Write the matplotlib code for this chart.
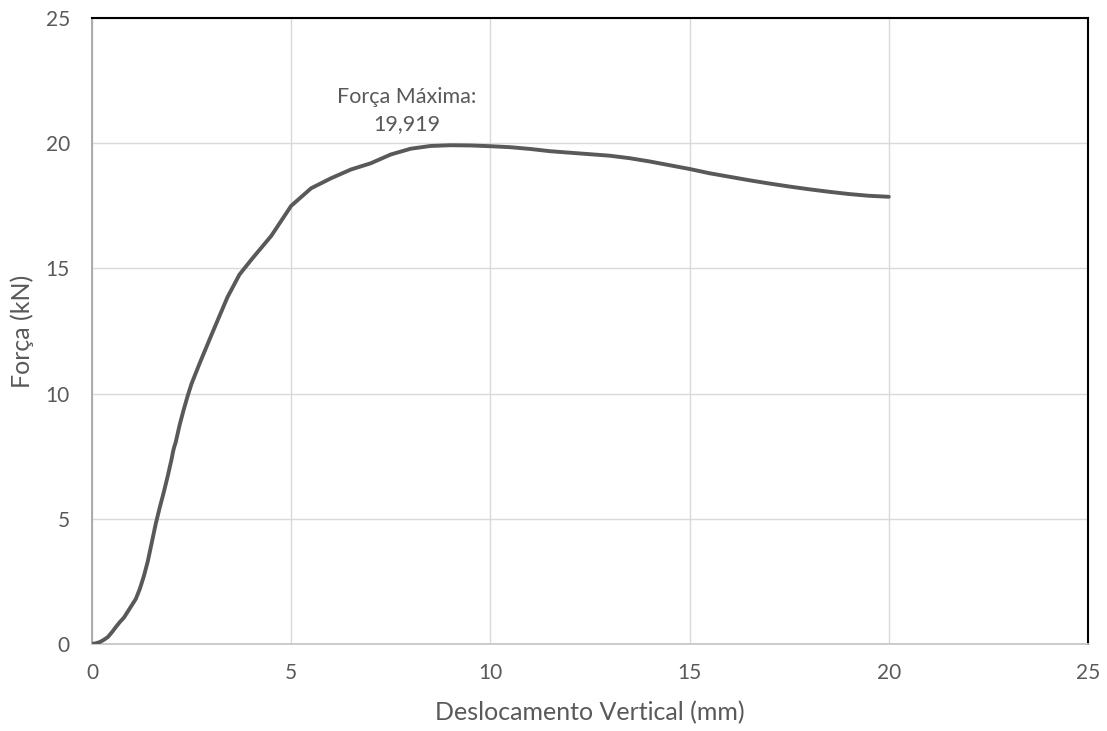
import numpy as np
import matplotlib
matplotlib.use("Agg")
from matplotlib import pyplot as plt

# curve (mm, kN)
desloc = [0.0, 0.1, 0.2, 0.3, 0.4, 0.5, 0.6, 0.7, 0.8, 0.9, 1.0, 1.1, 1.2,
          1.3, 1.4, 1.5, 1.6, 1.7, 1.8, 1.9, 2.0, 2.03, 2.06, 2.1, 2.2, 2.3,
          2.4, 2.5, 2.7, 3.0, 3.2, 3.4, 3.7, 4.0, 4.5, 5.0, 5.5, 6.0, 6.5,
          7.0, 7.5, 8.0, 8.5, 9.0, 9.5, 10.0, 10.5, 11.0, 11.5, 12.0, 12.5,
          13.0, 13.5, 14.0, 14.5, 15.0, 15.5, 16.0, 16.5, 17.0, 17.5, 18.0,
          18.5, 19.0, 19.5, 20.0]
forca = [0.0, 0.03, 0.08, 0.17, 0.28, 0.47, 0.68, 0.88, 1.05, 1.3, 1.55,
         1.8, 2.2, 2.7, 3.3, 4.05, 4.8, 5.45, 6.05, 6.7, 7.4, 7.65, 7.85,
         8.05, 8.75, 9.35, 9.9, 10.4, 11.2, 12.35, 13.1, 13.85, 14.75, 15.35,
         16.3, 17.5, 18.2, 18.6, 18.95, 19.2, 19.55, 19.78, 19.89, 19.919,
         19.91, 19.88, 19.84, 19.77, 19.68, 19.62, 19.56, 19.5, 19.4, 19.27,
         19.12, 18.97, 18.8, 18.66, 18.52, 18.39, 18.27, 18.16, 18.06, 17.97,
         17.9, 17.86]

rotulo_max = "Força Máxima:\n19,919"

cinza = "#595959"
plt.rcParams["font.family"] = ["Lato", "DejaVu Sans"]

fig = plt.figure(figsize=(11.07, 7.31), dpi=100)
ax = fig.add_axes([92 / 1107, 1 - 644 / 731, (1088 - 92) / 1107, (644 - 18) / 731])

ax.plot(desloc, forca, color=cinza, lw=2.8, solid_capstyle="round",
        solid_joinstyle="round", zorder=3)

ax.set_xlim(0, 25)
ax.set_ylim(0, 25)
ax.set_xticks(range(0, 26, 5))
ax.set_yticks(range(0, 26, 5))
ax.grid(True, color="#d9d9d9", lw=1.0)
ax.set_axisbelow(True)
ax.tick_params(length=0, labelsize=15, labelcolor=cinza)
ax.tick_params(axis="x", pad=14)
ax.tick_params(axis="y", pad=16)

ax.spines["left"].set_color("#a6a6a6")
ax.spines["bottom"].set_color("#c8c8c8")
ax.spines["top"].set_color("black")
ax.spines["right"].set_color("black")
for s in ["left", "bottom"]:
    ax.spines[s].set_linewidth(1.3)
for s in ["top", "right"]:
    ax.spines[s].set_linewidth(1.5)

ax.text(7.9, 21.3, rotulo_max, ha="center", va="center", fontsize=15.5,
        color=cinza, linespacing=1.45)

ax.set_xlabel("Deslocamento Vertical (mm)", fontsize=18, color=cinza, labelpad=13)
ax.set_ylabel("Força (kN)", fontsize=18, color=cinza, labelpad=8)

fig.savefig("out.png", dpi=100)
